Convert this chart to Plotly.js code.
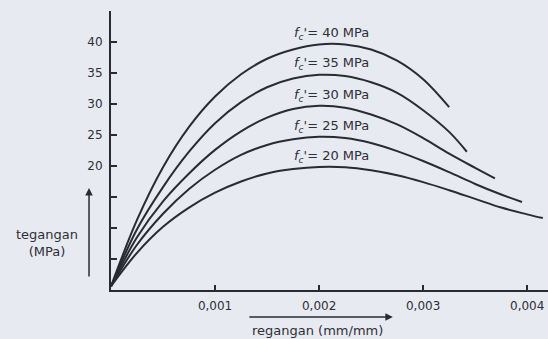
<!DOCTYPE html>
<html>
<head>
<meta charset="utf-8">
<script src="https://cdn.plot.ly/plotly-3.0.1.min.js"></script>
<style>
html,body{margin:0;padding:0;background:#e8eaf2;}
#chart{width:548px;height:339px;}
</style>
</head>
<body>
<div id="chart"></div>
<script>
// strain (mm/mm) and stress (MPa)
const strain40 = [0,0.00025,0.0005,0.00075,0.001,0.00125,0.0015,0.00175,0.002,0.00225,0.0025,0.00275,0.003,0.00325];
const stress40 = [0.6,11.3,19.8,26.3,31.2,34.8,37.3,38.8,39.6,39.6,38.8,37,34,29.5];

const strain35 = [0,0.00025,0.0005,0.00075,0.001,0.00125,0.0015,0.00175,0.002,0.00225,0.0025,0.00275,0.003,0.00325,0.00342];
const stress35 = [0.6,9.8,16.6,22.3,26.9,30.3,32.7,34.1,34.7,34.5,33.5,31.8,29,25.5,22.3];

const strain30 = [0,0.00025,0.0005,0.00075,0.001,0.00125,0.0015,0.00175,0.002,0.00225,0.0025,0.00275,0.003,0.00325,0.0035,0.00369];
const stress30 = [0.6,8.5,14.3,18.8,22.6,25.6,27.8,29.2,29.7,29.4,28.3,26.7,24.5,22,19.7,18];

const strain25 = [0,0.00025,0.0005,0.00075,0.001,0.00125,0.0015,0.00175,0.002,0.00225,0.0025,0.00275,0.003,0.00325,0.0035,0.00375,0.00395];
const stress25 = [0.6,7.3,12.3,16.3,19.4,21.8,23.4,24.3,24.7,24.5,23.7,22.4,20.8,19,17.1,15.4,14.2];

const strain20 = [0,0.00025,0.0005,0.00075,0.001,0.00125,0.0015,0.00175,0.002,0.00225,0.0025,0.00275,0.003,0.00325,0.0035,0.00375,0.004,0.00415];
const stress20 = [0.6,6.0,10.2,13.3,15.7,17.5,18.8,19.5,19.85,19.8,19.3,18.5,17.4,16.1,14.7,13.3,12.2,11.6];

const seriesNames = ["40","35","30","25","20"];
const labelY = [41.4, 36.5, 31.4, 26.3, 21.5];
const labelX = 0.00212;

const xTickVals = [0.001,0.002,0.003,0.004];
const xTickText = ["0,001","0,002","0,003","0,004"];
const yTickVals = [20,25,30,35,40];
const yTickText = ["20","25","30","35","40"];
const yMinorTickVals = [5,10,15];

const ink = "#2a2a34";
const txt = "#2e2e38";
const font = "DejaVu Sans, Liberation Sans, sans-serif";

const xs = [strain40,strain35,strain30,strain25,strain20];
const ys = [stress40,stress35,stress30,stress25,stress20];
const traces = xs.map((x,i)=>({
  x:x, y:ys[i], type:"scatter", mode:"lines",
  line:{color:ink,width:2,shape:"spline",smoothing:1},
  name:"fc' = "+seriesNames[i]+" MPa", hoverinfo:"skip"
}));

const annotations = seriesNames.map((n,i)=>({
  x:labelX, y:labelY[i], xref:"x", yref:"y",
  text:"<i>f<sub>c</sub></i>'= "+n+" MPa",
  showarrow:false, xanchor:"center", yanchor:"middle",
  font:{family:font,size:13,color:txt}
}));
// x-axis direction arrow
annotations.push({x:0.645,y:-0.0968,xref:"paper",yref:"paper",ax:-145,ay:0,text:"",
  showarrow:true,arrowhead:2,arrowsize:1,arrowwidth:1.5,arrowcolor:ink});
// y-axis direction arrow
annotations.push({x:-0.0503,y:0.3656,xref:"paper",yref:"paper",ax:0,ay:90,text:"",
  showarrow:true,arrowhead:2,arrowsize:1,arrowwidth:1.5,arrowcolor:ink});
// axis titles
annotations.push({x:0.4714,y:-0.1434,xref:"paper",yref:"paper",text:"regangan (mm/mm)",
  showarrow:false,xanchor:"center",yanchor:"middle",
  font:{family:font,size:13,color:txt}});
annotations.push({x:-0.1465,y:0.1667,xref:"paper",yref:"paper",text:"tegangan<br>(MPa)",
  showarrow:false,xanchor:"center",yanchor:"middle",
  font:{family:font,size:13,color:txt}});

const layout = {
  width:548, height:339,
  margin:{l:111,r:0,t:11,b:49},
  paper_bgcolor:"#e8eaf2", plot_bgcolor:"rgba(0,0,0,0)",
  showlegend:false,
  xaxis:{range:[0,0.0042],showline:true,linecolor:ink,linewidth:2,
    ticks:"inside",ticklen:5,tickwidth:1.5,tickcolor:ink,ticklabelstandoff:4,
    tickmode:"array",tickvals:xTickVals,ticktext:xTickText,showgrid:false,zeroline:false,
    tickfont:{family:font,size:12,color:txt}},
  yaxis:{range:[0,45],showline:true,linecolor:ink,linewidth:2,
    ticks:"inside",ticklen:6,tickwidth:1.5,tickcolor:ink,ticklabelstandoff:4,
    tickmode:"array",tickvals:yTickVals,ticktext:yTickText,showgrid:false,zeroline:false,
    minor:{tickmode:"array",tickvals:yMinorTickVals,ticks:"inside",ticklen:6,tickwidth:1.5,tickcolor:ink,showgrid:false},
    tickfont:{family:font,size:12,color:txt}},
  annotations:annotations
};

Plotly.newPlot("chart",traces,layout,{displayModeBar:false,staticPlot:true});
</script>
</body>
</html>
